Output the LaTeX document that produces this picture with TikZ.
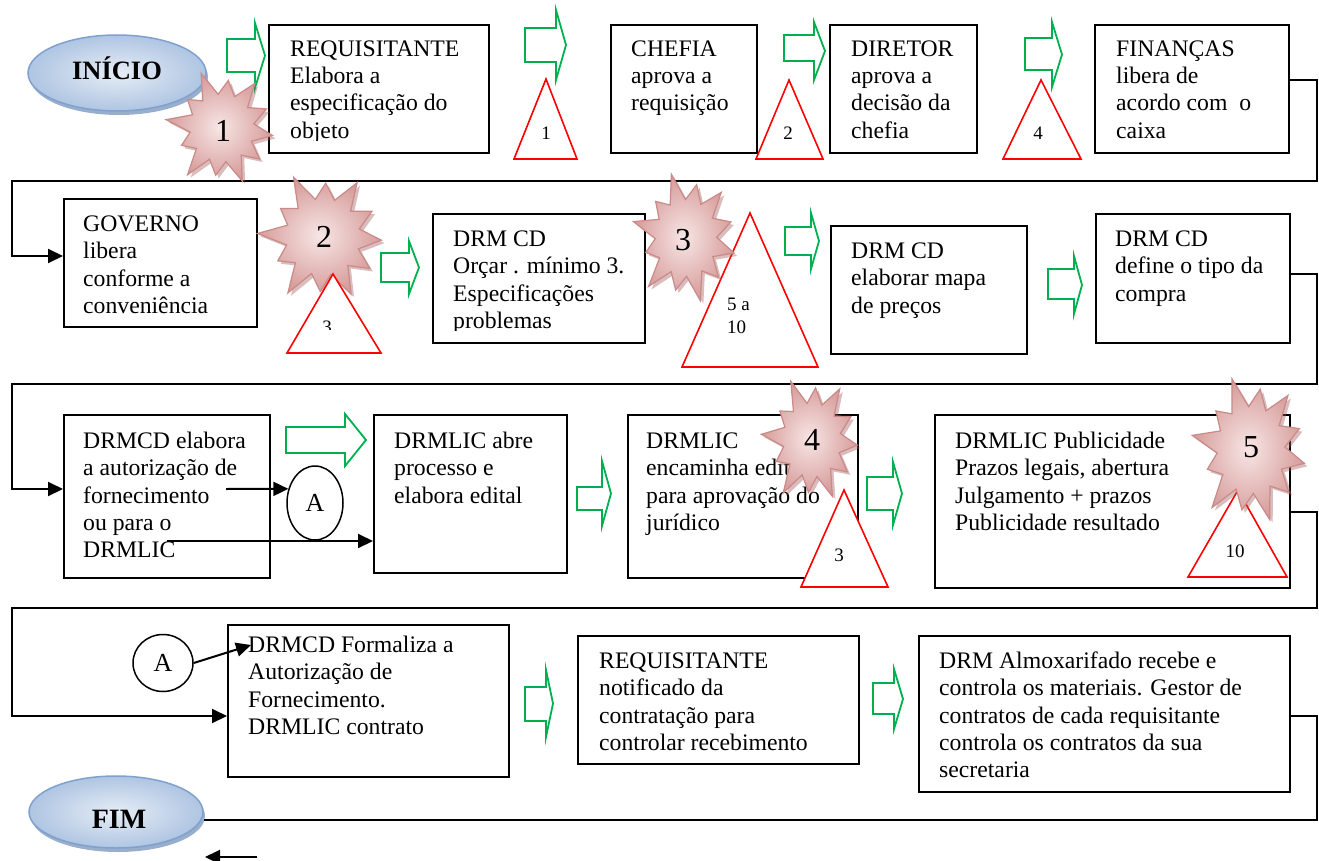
\documentclass[tikz,border=0pt]{standalone}
\usepackage{fontspec}
\setmainfont{Liberation Serif}
\usetikzlibrary{shapes.geometric,arrows.meta,calc}

\definecolor{flowgreen}{HTML}{00B050}
\definecolor{warnred}{HTML}{FF0000}
\definecolor{burstedge}{HTML}{C98A88}
\definecolor{burstin}{HTML}{F7E6E5}
\definecolor{burstout}{HTML}{D69C9A}
\definecolor{burstshade}{HTML}{A05A58}
\definecolor{ovalin}{HTML}{E6EDF6}
\definecolor{ovalout}{HTML}{AFC5E2}
\definecolor{ovaledge}{HTML}{7FA1CF}
\definecolor{ovalshade}{HTML}{6E8CB5}

\newcommand\boxfont{\fontsize{23.7}{27.4}\selectfont}
\newcommand\tagfont{\fontsize{19}{23}\selectfont}
\newcommand\burstfont{\fontsize{32}{36}\selectfont}

\tikzset{
  procbox/.style={draw=black, line width=1.8pt, fill=white, anchor=north west, inner sep=0pt},
  boxtext/.style={anchor=north west, inner sep=0pt, align=left, font=\boxfont},
  tagtext/.style={anchor=base, inner sep=0pt, font=\tagfont},
  bursttext/.style={anchor=center, inner sep=0pt, font=\burstfont},
  conn/.style={line width=2pt, line join=miter},
  tip/.style={-{Triangle[length=15pt,width=14pt]}},
  flowarrow/.style={draw=flowgreen, line width=1.8pt, fill=white, line join=miter},
  warntri/.style={draw=warnred, line width=1.6pt, fill=white, line join=miter},
  burst/.style={draw=burstedge, line width=1.2pt, inner color=burstin, outer color=burstout},
  burstshadow/.style={fill=burstshade, opacity=.4},
  oval/.style={ellipse, draw=ovaledge, line width=1.5pt, inner color=ovalin, outer color=ovalout},
  ovalshadow/.style={fill=ovalshade, opacity=.7},
  ovaltext/.style={anchor=base, inner sep=0pt},
  circA/.style={ellipse, draw=black, line width=1.5pt, fill=white, inner sep=0pt,
    font=\fontsize{26}{30}\selectfont},
}

% process box: name, left, top, right, bottom
\newcommand\mkbox[5]{\node[procbox, minimum width={#4-#2}, minimum height={#5-#3}] (#1) at (#2,#3) {};}
% box text: name, left, first baseline, lines
\newcommand\mktext[4]{\node[boxtext] (#1) at (#2,{#3-24}) {\rule{0pt}{24pt}#4};}
% green block arrow: shaft left, head base, tip x, shaft top, shaft bottom, head top, head bottom
\newcommand\mkarrow[7]{\draw[flowarrow] (#1,#4) -- (#2,#4) -- (#2,#6) -- (#3,{(#6+#7)/2})
  -- (#2,#7) -- (#2,#5) -- (#1,#5) -- cycle;}
% warning triangle: apex x, apex y, base y, base left, base right
\newcommand\mktri[5]{\draw[warntri] (#1,#2) -- (#5,#3) -- (#4,#3) -- cycle;}
% explosion outline: centre x, centre y, radius x, radius y, turn
\newcommand\burstpath[5]{plot[samples at={0,...,23}, variable=\k]
  ({#1+#3*(1-0.36*mod(\k,2)+0.13*sin(\k*97+#5)*(1-mod(\k,2)))*cos(\k*15+#5)},
   {#2+#4*(1-0.36*mod(\k,2)+0.13*sin(\k*97+#5)*(1-mod(\k,2)))*sin(\k*15+#5)}) -- cycle}
\newcommand\mkburst[5]{%
  \fill[burstshadow] \burstpath{#1+3}{#2+3}{#3}{#4}{#5};
  \shade[burst] \burstpath{#1}{#2}{#3}{#4}{#5};}

\begin{document}
\begin{tikzpicture}[x=1pt,y=-1pt]
\useasboundingbox (0,0) rectangle (1319,861);

% ---------- row connectors ----------
\mkbox{b4}{1094}{24}{1288}{152}
\mkbox{b5}{63}{198}{256}{326}
\mkbox{b8}{1095}{213}{1289}{342}
\mkbox{b9}{63}{414}{269}{577}
\mkbox{b12}{934}{414}{1289}{587}
\mkbox{b13}{227}{624}{508}{776}
\mkbox{b15}{918}{635}{1289}{791}

\draw[conn,tip] (b4.east |- 0,80) -- (1317,80) -- (1317,181) -- (12,181) -- (12,256) -- (b5.west |- 0,256);
\draw[conn,tip] (b8.east |- 0,274) -- (1317,274) -- (1317,384) -- (12,384) -- (12,489) -- (b9.west |- 0,489);
\draw[conn,tip] (b12.east |- 0,512) -- (1317,512) -- (1317,608) -- (12,608) -- (12,716) -- (b13.west |- 0,716);

% ---------- start / end ----------
\fill[ovalshadow] (119,77) ellipse [x radius=89, y radius=38];
\node[oval, minimum width=178pt, minimum height=76pt] (start) at (117,73) {};
\node[ovaltext, font=\bfseries\fontsize{26.5}{30}\selectfont] (startlbl) at (117,80) {INÍCIO};
\fill[ovalshadow] (118,816) ellipse [x radius=87, y radius=36];
\node[oval, minimum width=174pt, minimum height=72pt] (finish) at (116,812) {};
\node[ovaltext, font=\bfseries\fontsize{28}{30}\selectfont] (finishlbl) at (119,828) {FIM};
\draw[line width=1.5pt] (b15.east |- 0,716) -- (1317,716) -- (1317,820) -- (finish.east |- 0,820);

% ---------- process boxes ----------
\mkbox{b1}{268}{24}{488}{152}
\mkbox{b2}{610}{24}{756}{152}
\mkbox{b3}{829}{24}{976}{152}
\mkbox{b6}{432}{213}{644}{342}
\mkbox{b7}{830}{225}{1026}{353}
\mkbox{b10}{373}{414}{566}{572}
\mkbox{b11}{627}{414}{857}{577}
\mkbox{b14}{577}{635}{858}{763}

% ---------- box texts ----------
\begin{scope}
  \clip (268,24) rectangle (488,141);
  \mktext{t1}{290}{56}{REQUISITANTE\\Elabora a\\especificação do\\objeto}
\end{scope}
\mktext{t2}{631}{56}{CHEFIA\\aprova a\\requisição}
\mktext{t3}{851}{56}{DIRETOR\\aprova a\\decisão da\\chefia}
\mktext{t4}{1116}{56}{FINANÇAS\\libera de\\acordo com~~o\\caixa}
\mktext{t5}{83}{231}{GOVERNO\\libera\\conforme a\\conveniência}
\begin{scope}
  \clip (432,213) rectangle (644,330);
  \mktext{t6}{453}{246}{DRM CD\\Orçar . mínimo 3.\\Especificações\\problemas}
\end{scope}
\mktext{t7}{851}{258}{DRM CD\\elaborar mapa\\de preços}
\mktext{t8}{1115}{246}{DRM CD\\define o tipo da\\compra}
\mktext{t9}{83}{448}{DRMCD elabora\\a autorização de\\fornecimento\\ou para o\\DRMLIC}
\mktext{t10}{394}{448}{DRMLIC abre\\processo e\\elabora edital}
\mktext{t11}{646}{448}{DRMLIC\\encaminha edital\\para aprovação do\\jurídico}
\mktext{t12}{955}{448}{DRMLIC Publicidade\\Prazos legais, abertura\\Julgamento + prazos\\Publicidade resultado}
\mktext{t13}{248}{652}{DRMCD Formaliza a\\Autorização de\\Fornecimento.\\DRMLIC contrato}
\mktext{t14}{599}{668}{REQUISITANTE\\notificado da\\contratação para\\controlar recebimento}
\mktext{t15}{939}{668}{DRM Almoxarifado recebe e\\controla os materiais. Gestor de\\contratos de cada requisitante\\controla os contratos da sua\\secretaria}

% ---------- green flow arrows ----------
\mkarrow{227}{255}{265}{39}{72}{23}{88}
\mkarrow{525}{556}{566}{28}{62}{10}{80}
\mkarrow{784}{814}{825}{35}{61}{22}{80}
\mkarrow{1025}{1052}{1062}{38}{70}{22}{87}
\mkarrow{381}{409}{419}{253}{282}{241}{294}
\mkarrow{785}{811}{819}{227}{255}{213}{269}
\mkarrow{1048}{1074}{1082}{269}{299}{256}{314}
\mkarrow{286}{345}{366}{427}{453}{414}{466}
\mkarrow{577}{602}{611}{487}{510}{461}{526}
\mkarrow{867}{893}{902}{477}{510}{462}{525}
\mkarrow{525}{546}{553}{687}{721}{670}{737}
\mkarrow{873}{894}{903}{683}{714}{669}{729}

% ---------- connector circles A ----------
\node[circA, minimum width=56pt, minimum height=74pt] (A1) at (315,503) {A};
\coordinate (a1from) at (226,489);
\draw[conn,tip] (a1from) -- (A1.152);
\coordinate (a2from) at (167,541);
\draw[conn,tip] (a2from) -- (a2from -| b10.west);
\node[circA, minimum width=60pt, minimum height=57pt] (A2) at (163,663) {A};
\coordinate (a3to) at (251,645);
\draw[conn,tip] (A2.east) -- (a3to);
\coordinate (stubR) at (257,857);
\coordinate (stubL) at (205,857);
\draw[conn,tip] (stubR) -- (stubL);

% ---------- warning triangles ----------
\mktri{546}{79}{159}{514}{577}
\node[tagtext] (w1) at (546,140) {1};
\mktri{789}{80}{159}{756}{823}
\node[tagtext] (w2) at (788,140) {2};
\mktri{1041}{80}{159}{1003}{1081}
\node[tagtext] (w4) at (1038,140) {4};
\mktri{750}{213}{367}{682}{818}
\node[tagtext, anchor=north west, align=left] (w5) at (727,293) {\rule{0pt}{17pt}5 a\\10};
\mktri{844}{490}{587}{801}{888}
\node[tagtext] (w3b) at (839,561) {3};
\mktri{1238}{490}{577}{1188}{1287}
\node[tagtext] (w10) at (1235,557) {10};

% ---------- explosions ----------
\mkburst{222}{128}{50}{53}{8}
\node[bursttext] (e1) at (223,131) {1};
\mkburst{323}{237}{58}{60}{3}
\node[bursttext] (e2) at (324,237) {2};
\mktri{333}{274}{353}{287}{381}
\begin{scope}
  \clip (287,274) rectangle (381,329);
  \node[tagtext] (w3a) at (327,333) {3};
\end{scope}
\mkburst{686}{238}{48}{60}{14}
\node[bursttext] (e3) at (683,240) {3};
\mkburst{812}{440}{45}{58}{5}
\node[bursttext] (e4) at (812,440) {4};
\mkburst{1251}{450}{53}{68}{11}
\node[bursttext] (e5) at (1251,447) {5};
\end{tikzpicture}
\end{document}
